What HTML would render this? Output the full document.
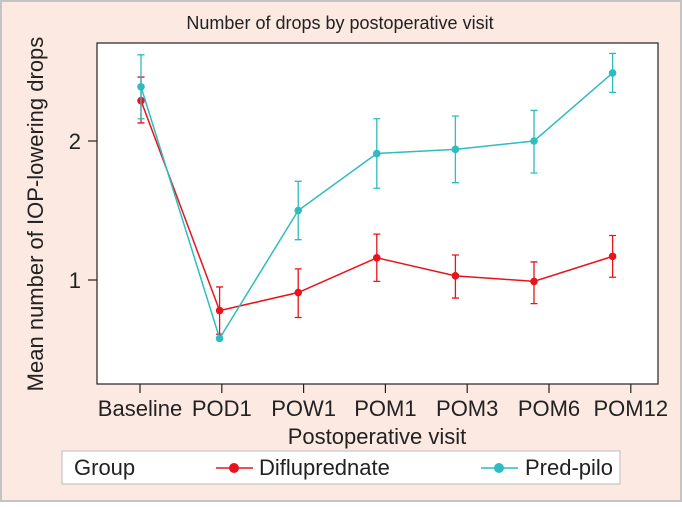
<!DOCTYPE html>
<html><head><meta charset="utf-8"><style>
html,body{margin:0;padding:0;}
body{width:682px;height:502px;overflow:hidden;font-family:"Liberation Sans",sans-serif;}
</style></head><body>
<svg width="682" height="502" xmlns="http://www.w3.org/2000/svg" font-family="Liberation Sans, sans-serif">
<rect x="1" y="1" width="680" height="500" fill="#fce9e1" stroke="#c4c4c4" stroke-width="2"/>
<text x="340" y="29" text-anchor="middle" font-size="18" fill="#222">Number of drops by postoperative visit</text>
<rect x="97" y="43" width="561" height="341" fill="#fff" stroke="#222" stroke-width="1.2"/>
<g id="axes"></g>
<g id="marks"></g>
<text transform="translate(43,214) rotate(-90)" text-anchor="middle" font-size="22" fill="#222">Mean number of IOP-lowering drops</text>
<text x="377" y="444" text-anchor="middle" font-size="22" fill="#222">Postoperative visit</text>
<g>
<rect x="62" y="451" width="558" height="33" fill="#fff" stroke="#bbb" stroke-width="1"/>
<text x="74" y="475" font-size="22" fill="#222">Group</text>
<g>
<line x1="216" y1="468" x2="253" y2="468" stroke="#e8141c" stroke-width="1.5"/>
<circle cx="234" cy="468" r="5" fill="#e8141c"/>
<text x="259" y="475" font-size="22" fill="#222">Difluprednate</text></g>
<g>
<line x1="481" y1="468" x2="518" y2="468" stroke="#2ebcc0" stroke-width="1.5"/>
<circle cx="499" cy="468" r="5" fill="#2ebcc0"/>
<text x="525" y="475" font-size="22" fill="#222">Pred-pilo</text></g>
</g>
</svg>
<script>
const categories=["Baseline","POD1","POW1","POM1","POM3","POM6","POM12"];
const yTicks=[1,2];
const difluMean=[2.29,0.78,0.91,1.16,1.03,0.99,1.17];
const difluLow=[2.13,0.61,0.73,0.99,0.87,0.83,1.02];
const difluHigh=[2.46,0.95,1.08,1.33,1.18,1.13,1.32];
const predMean=[2.39,0.58,1.50,1.91,1.94,2.00,2.49];
const predLow=[2.16,0.58,1.29,1.66,1.70,1.77,2.35];
const predHigh=[2.62,0.58,1.71,2.16,2.18,2.22,2.63];

const NS="http://www.w3.org/2000/svg";
function y(v){return 280-(v-1)*139;}
function xTick(i){return 140+i*81.8;}
function xPt(i){return 141+i*78.6;}
function mk(tag,attrs,parent){const e=document.createElementNS(NS,tag);for(const k in attrs)e.setAttribute(k,attrs[k]);parent.appendChild(e);return e;}
const axes=document.getElementById('axes'),marks=document.getElementById('marks');
categories.forEach((c,i)=>{
  const t=mk('line',{x1:xTick(i),x2:xTick(i),y1:384,y2:393,stroke:'#222','stroke-width':1.2},axes);
  
  
  const l=mk('text',{x:xTick(i),y:416,'text-anchor':'middle','font-size':22,fill:'#222'},axes);
  l.textContent=c;
  
  
});
yTicks.forEach(v=>{
  const t=mk('line',{x1:88,x2:97,y1:y(v),y2:y(v),stroke:'#222','stroke-width':1.2},axes);
  
  
  const l=mk('text',{x:81,y:y(v)+8,'text-anchor':'end','font-size':22,fill:'#222'},axes);
  l.textContent=v;
  
  
});
function series(mean,lo,hi,color,name){
  const g=mk('g',{},marks);
  
  
  lo.forEach((l,i)=>{
    if(hi[i]-l<0.01)return;
    const x=xPt(i);
    const e=mk('path',{d:`M${x},${y(l)}V${y(hi[i])}M${x-3.5},${y(l)}h7M${x-3.5},${y(hi[i])}h7`,stroke:color,'stroke-width':1.3,fill:'none'},g);
    
    
  });
  const p=mk('polyline',{points:mean.map((v,i)=>xPt(i)+','+y(v)).join(' '),stroke:color,'stroke-width':1.5,fill:'none'},g);
  
  
  mean.forEach((v,i)=>{
    const c=mk('circle',{cx:xPt(i),cy:y(v),r:3.8,fill:color},g);
    
    
  });
}
series(difluMean,difluLow,difluHigh,'#e8141c','difluprednate');
series(predMean,predLow,predHigh,'#2ebcc0','pred-pilo');
</script>
</body></html>
